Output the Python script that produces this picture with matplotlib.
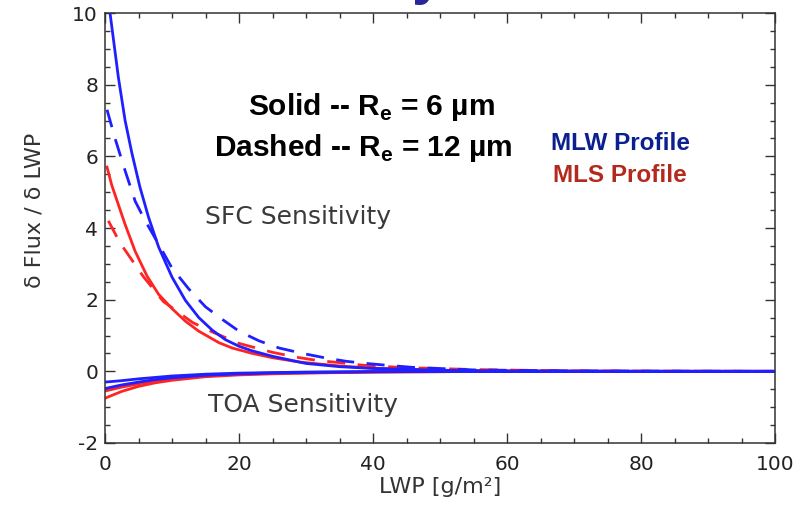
import matplotlib
matplotlib.use("Agg")
import matplotlib.pyplot as plt
from matplotlib.ticker import MultipleLocator

# SFC sensitivity curves
lwp_mlw_6 = [0.75, 2, 3, 4, 5.2, 6.5, 8, 10, 12, 14, 16, 18, 20, 22, 25, 30, 35, 40, 50, 60, 80, 100]
sfc_mlw_6 = [10.0, 8.2, 7.0, 6.1, 5.15, 4.3, 3.47, 2.63, 1.98, 1.5, 1.15, 0.88, 0.7, 0.57, 0.42, 0.22, 0.13, 0.08, 0.03, 0.01, 0.0, 0.0]

lwp_mlw_12 = [0.3, 1.5, 3, 4.5, 6, 8, 10, 12.5, 15, 17.5, 20, 23, 26, 29.5, 33, 36, 39, 42, 46, 55, 70, 100]
sfc_mlw_12 = [7.3, 6.5, 5.6, 4.75, 4.2, 3.55, 2.88, 2.3, 1.8, 1.45, 1.12, 0.85, 0.65, 0.5, 0.37, 0.28, 0.22, 0.17, 0.11, 0.04, 0.01, 0.0]

lwp_mls_6 = [0.3, 1, 2, 3, 4.5, 6.3, 8, 10, 12, 14, 17, 19, 22, 25, 29, 35, 40, 50, 60, 80, 100]
sfc_mls_6 = [5.7, 5.2, 4.65, 4.1, 3.35, 2.65, 2.15, 1.75, 1.4, 1.12, 0.8, 0.65, 0.5, 0.38, 0.26, 0.15, 0.09, 0.03, 0.01, 0.0, 0.0]

lwp_mls_12 = [0.5, 2.2, 3.3, 5.7, 8.7, 10.2, 13.1, 16, 20, 25, 28.4, 31.8, 34.6, 38.5, 41, 45.5, 55, 70, 100]
sfc_mls_12 = [4.2, 3.6, 3.3, 2.65, 1.95, 1.75, 1.36, 1.1, 0.78, 0.53, 0.4, 0.3, 0.25, 0.17, 0.14, 0.1, 0.05, 0.01, 0.0]

# TOA sensitivity curves
lwp_toa = [0, 2.5, 5, 7.5, 10, 15, 20, 25, 30, 40, 50, 60, 100]
toa_mlw_6 = [-0.3, -0.26, -0.21, -0.17, -0.13, -0.08, -0.05, -0.035, -0.02, -0.01, -0.005, 0, 0]
toa_mlw_12 = [-0.48, -0.38, -0.3, -0.23, -0.18, -0.11, -0.07, -0.045, -0.03, -0.01, -0.005, 0, 0]
toa_mls_6 = [-0.55, -0.44, -0.35, -0.27, -0.21, -0.13, -0.08, -0.055, -0.04, -0.02, -0.01, 0, 0]
toa_mls_12 = [-0.75, -0.56, -0.42, -0.32, -0.25, -0.15, -0.1, -0.07, -0.05, -0.02, -0.01, 0, 0]

BLUE = "#1f1fff"
RED = "#ff2424"
DASH = (0, (6.5, 4.5))

plt.rcParams["mathtext.fontset"] = "custom"
plt.rcParams["mathtext.rm"] = "Liberation Sans"
plt.rcParams["mathtext.bf"] = "Liberation Sans:bold"
plt.rcParams["axes.unicode_minus"] = False

fig = plt.figure(figsize=(8.05, 5.07), dpi=100)
ax = fig.add_axes([105 / 805, 64 / 507, 670 / 805, 430 / 507])

lw = 2.0
# red first so blue sits on top near zero
ax.plot(lwp_mls_6, sfc_mls_6, color=RED, lw=lw)
ax.plot(lwp_mls_12, sfc_mls_12, color=RED, lw=lw, linestyle=DASH)
ax.plot(lwp_toa, toa_mls_6, color=RED, lw=lw)
ax.plot(lwp_toa, toa_mls_12, color=RED, lw=lw)
ax.plot(lwp_mlw_6, sfc_mlw_6, color=BLUE, lw=lw)
ax.plot(lwp_mlw_12, sfc_mlw_12, color=BLUE, lw=lw, linestyle=DASH)
ax.plot(lwp_toa, toa_mlw_6, color=BLUE, lw=lw)
ax.plot(lwp_toa, toa_mlw_12, color=BLUE, lw=lw)

ax.set_xlim(0, 100)
ax.set_ylim(-2, 10)
ax.xaxis.set_major_locator(MultipleLocator(20))
ax.xaxis.set_minor_locator(MultipleLocator(5))
ax.yaxis.set_major_locator(MultipleLocator(2))
ax.yaxis.set_minor_locator(MultipleLocator(0.5))
ax.tick_params(which="both", direction="in", top=True, right=True, color="#333333")
ax.tick_params(which="major", length=7, width=1)
ax.tick_params(which="minor", length=3.5, width=1)
ax.tick_params(axis="x", labelsize=14.5, pad=9, labelcolor="#222222")
ax.tick_params(axis="y", labelsize=14.5, pad=5, labelcolor="#222222")
for s in ax.spines.values():
    s.set_color("#333333")
    s.set_linewidth(1.1)

ax.set_xlabel("LWP [g/m²]", fontsize=16, color="#333333", labelpad=2)
fig.text(35 / 805, 1 - 210 / 507, "δ Flux / δ LWP", rotation=90, fontsize=16,
         color="#333333", ha="center", va="center")

ax.text(14.9, 4.32, "SFC Sensitivity", fontsize=18, color="#3a3a3a", va="center")
ax.text(15.4, -0.95, "TOA Sensitivity", fontsize=18, color="#3a3a3a", va="center")

bold = dict(family="Liberation Sans", fontweight="bold", fontsize=21.5, color="black", ha="center")
ax.text(39.7, 7.16, r"Solid -- R$_\mathbf{e}$ = 6 µm", va="baseline", **bold)
ax.text(38.5, 6.0, r"Dashed -- R$_\mathbf{e}$ = 12 µm", va="baseline", **bold)

prof = dict(family="Liberation Sans", fontweight="bold", fontsize=17.5, ha="center", va="baseline")
ax.text(76.9, 6.18, "MLW Profile", color="#0b1f8f", **prof)
ax.text(76.9, 5.29, "MLS Profile", color="#b22a1e", **prof)

# descender of the slide title, cut off at the top edge as in the slide
fig.text(427 / 805, 1 + 7 / 507, "y", family="Liberation Sans", fontweight="bold",
         fontsize=41, color="#27289a", ha="center", va="baseline")

fig.savefig("out.png", dpi=100)
